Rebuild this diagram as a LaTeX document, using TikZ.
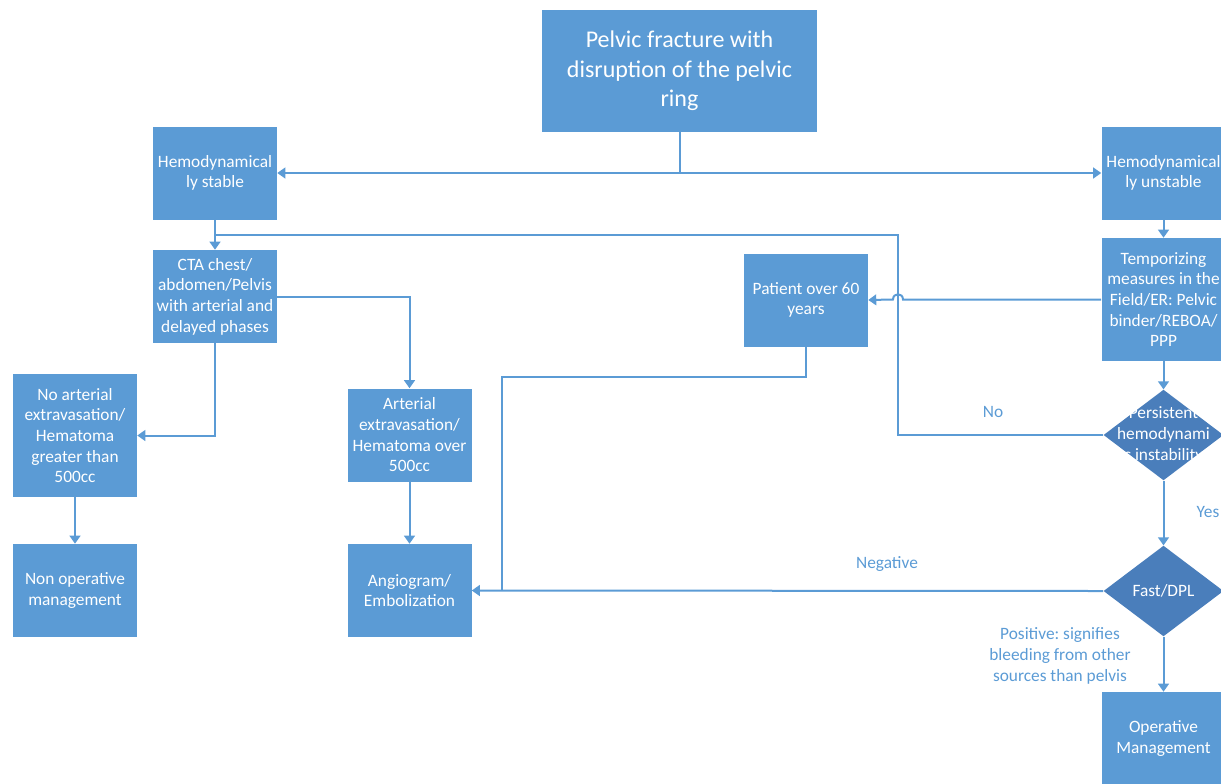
\documentclass[tikz,border=0pt]{standalone}
\usepackage{fontspec}
\setmainfont{Carlito}
\frenchspacing
\usetikzlibrary{arrows.meta,shapes.geometric}
\definecolor{boxblue}{HTML}{5B9BD5}
\definecolor{diablue}{HTML}{4A7EBB}
\definecolor{lineblue}{HTML}{5B9BD5}
\begin{document}
\begin{tikzpicture}[x=0.75pt,y=-0.75pt,
  box/.style={fill=boxblue, text=white, draw=none, align=center, minimum width=93pt, minimum height=69.75pt, inner sep=0pt, font=\fontsize{13}{15.5}\selectfont},
  tallbox/.style={box, minimum height=92.25pt},
  dia/.style={diamond, fill=diablue, draw=none, minimum width=90pt, minimum height=68pt, inner sep=0pt},
  diatext/.style={text=white, align=center, inner sep=0pt, font=\fontsize{13}{15.5}\selectfont},
  conn/.style={draw=lineblue, line width=1.5pt},
  arr/.style={conn, -{Triangle[width=8pt,length=6pt]}},
  lbl/.style={text=lineblue, align=center, inner sep=0pt, font=\fontsize{13}{15.5}\selectfont}]
\useasboundingbox (0,0) rectangle (1221,783);
\clip (0,0) rectangle (1221,783);

% boxes
\node[box, minimum width=206.25pt, minimum height=91.5pt, font=\fontsize{18}{22}\selectfont] (top) at (679.5,71) {Pelvic fracture with\\disruption of the pelvic\\ring};
\node[box] (stable) at (215,173) {Hemodynamical\\ly stable};
\node[box] (unstable) at (1163.5,173) {Hemodynamical\\ly unstable};
\node[box] (cta) at (215,296.5) {CTA chest/\\abdomen/Pelvis\\with arterial and\\delayed phases};
\node[box] (patient) at (806,300) {Patient over 60\\years};
\node[tallbox] (temp) at (1163.5,299.5) {Temporizing\\measures in the\\Field/ER: Pelvic\\binder/REBOA/\\PPP};
\node[tallbox] (noart) at (75,435.5) {No arterial\\extravasation/\\Hematoma\\greater than\\500cc};
\node[box] (arterial) at (409.5,435) {Arterial\\extravasation/\\Hematoma over\\500cc};
\node[box] (nonop) at (75,590.5) {Non operative\\management};
\node[box] (angio) at (409.5,590.5) {Angiogram/\\Embolization};
\node[box] (oper) at (1163.5,738.5) {Operative\\Management};

% diamonds
\node[dia] (persist) at (1163.5,435) {};
\node[diatext] (persisttext) at (persist.center) {Persistent\\hemodynami\\c instability};
\node[dia] (fast) at (1163.5,591) {};
\node[diatext] (fasttext) at (fast.center) {Fast/DPL};

% connectors
\draw[arr] (top.south) |- (stable.east);
\draw[arr] (top.south) |- (unstable.west);
\draw[arr] (stable.south) -- (cta.north);
\coordinate (nojog) at (898,235);
\coordinate (nojoin) at (215,235);
\draw[conn] (persist.west) -| (nojog) -- (nojoin);
\coordinate (jumpR) at (903,299.5);
\coordinate (jumpL) at (893,299.5);
\draw[arr] (temp.west) -- (jumpR) .. controls +(0,-7) and +(0,-7) .. (jumpL) -- (patient.east);
\coordinate (pbend) at (806,377);
\coordinate (pdown) at (502,591);
\draw[conn] (patient.south) -- (pbend) -| (pdown);
\draw[arr] (fast.west) -- (angio.east);
\draw[arr] (cta.east) -| (arterial.north);
\draw[arr] (cta.south) |- (noart.east);
\draw[arr] (noart.south) -- (nonop.north);
\draw[arr] (arterial.south) -- (angio.north);
\draw[arr] (unstable.south) -- (temp.north);
\draw[arr] (temp.south) -- (persist.north);
\draw[arr] (persist.south) -- (fast.north);
\draw[arr] (fast.south) -- (oper.north);

% labels
\node[lbl] (nolbl) at (993,412) {No};
\node[lbl] (yeslbl) at (1208,512) {Yes};
\node[lbl] (neglbl) at (887,564) {Negative};
\node[lbl] (poslbl) at (1060,656) {Positive: signifies\\bleeding from other\\sources than pelvis};
\end{tikzpicture}
\end{document}
